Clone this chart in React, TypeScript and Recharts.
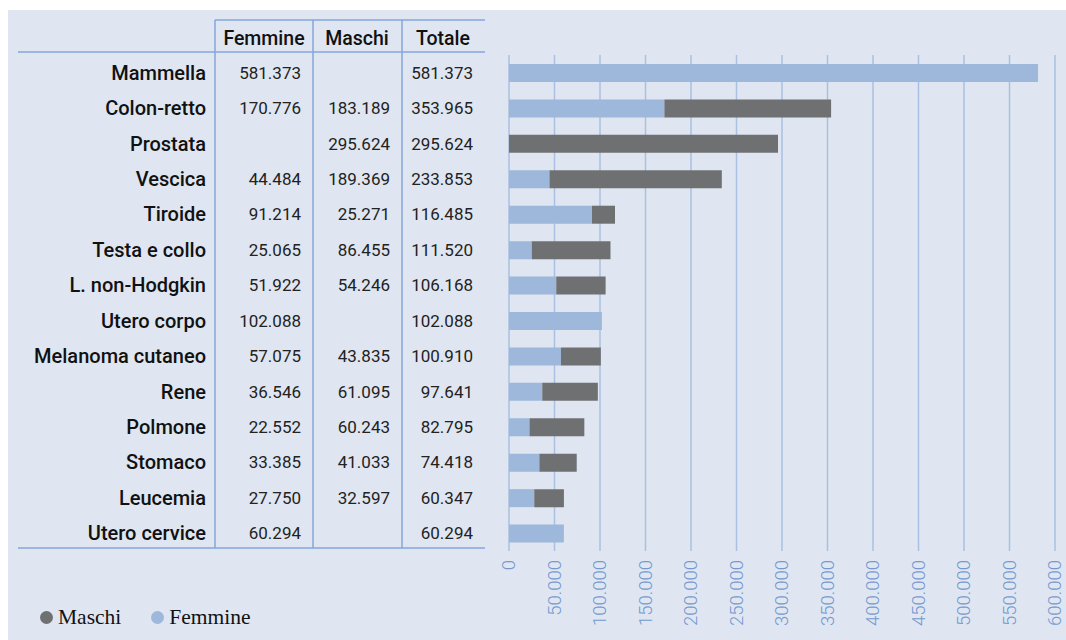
import { BarChart, Bar, XAxis, YAxis, CartesianGrid, Legend, Customized } from "recharts";

const categories = [
  "Mammella", "Colon-retto", "Prostata", "Vescica", "Tiroide", "Testa e collo", "L. non-Hodgkin",
  "Utero corpo", "Melanoma cutaneo", "Rene", "Polmone", "Stomaco", "Leucemia", "Utero cervice",
];
const femmine = [581373, 170776, null, 44484, 91214, 25065, 51922, 102088, 57075, 36546, 22552, 33385, 27750, 60294];
const maschi = [null, 183189, 295624, 189369, 25271, 86455, 54246, null, 43835, 61095, 60243, 41033, 32597, null];
const totale = [581373, 353965, 295624, 233853, 116485, 111520, 106168, 102088, 100910, 97641, 82795, 74418, 60347, 60294];
const xTicks = [0, 50000, 100000, 150000, 200000, 250000, 300000, 350000, 400000, 450000, 500000, 550000, 600000];
const columns = ["Femmine", "Maschi", "Totale"];

const data = categories.map((name, i) => ({ name, femmine: femmine[i], maschi: maschi[i], totale: totale[i] }));

const BG = "#dfe6f1";
const LINE = "#86a7d8";
const FONT = "Roboto, 'Noto Sans', sans-serif";

// 581373 -> "581.373"
const fmt = (v: number | null) => (v == null ? "" : String(v).replace(/\B(?=(\d{3})+(?!\d))/g, "."));

function RowTick(props: any) {
  const { y, payload, index } = props;
  const row = data[index];
  return (
    <g fontFamily={FONT}>
      <text x={198} y={y} dy="0.35em" textAnchor="end" fontSize={20} fontWeight={500} fill="#111">{payload.value}</text>
      <text x={293} y={y} dy="0.35em" textAnchor="end" fontSize={17} fill="#222">{fmt(row.femmine)}</text>
      <text x={382} y={y} dy="0.35em" textAnchor="end" fontSize={17} fill="#222">{fmt(row.maschi)}</text>
      <text x={465} y={y} dy="0.35em" textAnchor="end" fontSize={17} fill="#222">{fmt(row.totale)}</text>
    </g>
  );
}

function ValueTick(props: any) {
  const { x, y, payload } = props;
  return (
    <text x={x} y={y + 1} dy="0.35em" textAnchor="end" transform={`rotate(-90, ${x}, ${y + 1})`}
      fontFamily={FONT} fontWeight={300} fontSize={18.5} fill="#7499cf">
      {fmt(payload.value)}
    </text>
  );
}

// table frame and header
function TableFrame() {
  const headX = [256, 349, 435];
  return (
    <g stroke={LINE} strokeWidth={1.5}>
      <line x1={207} y1={10} x2={477} y2={10} />
      <line x1={10} y1={42} x2={477} y2={42} />
      <line x1={10} y1={538} x2={477} y2={538} />
      <line x1={207} y1={10} x2={207} y2={538} />
      <line x1={305} y1={10} x2={305} y2={538} />
      <line x1={394} y1={10} x2={394} y2={538} />
      {columns.map((c, i) => (
        <text key={c} x={headX[i]} y={28} dy="0.35em" textAnchor="middle" stroke="none" fill="#111"
          fontFamily={FONT} fontSize={19.5} fontWeight={500}>{c}</text>
      ))}
    </g>
  );
}

function LegendContent(props: any) {
  const items = [...(props.payload || [])].reverse();
  return (
    <div style={{ display: "flex", gap: 30, fontFamily: "'Liberation Serif', serif", fontSize: 21.5, color: "#111" }}>
      {items.map((it: any) => (
        <span key={it.value} style={{ display: "flex", alignItems: "center", gap: 5 }}>
          <span style={{ width: 13, height: 13, borderRadius: "50%", background: it.color, display: "inline-block" }} />
          {it.value}
        </span>
      ))}
    </div>
  );
}

export default function App() {
  return (
    <div style={{ position: "fixed", left: 8, top: 10, right: 0, bottom: 0, background: BG, overflow: "hidden" }}>
      <BarChart width={1058} height={630} data={data} layout="vertical"
        margin={{ top: 45, right: 11, bottom: 9, left: 0 }} barSize={18}>
        <CartesianGrid horizontal={false} stroke="#a9c0e2" strokeWidth={1.5} />
        <XAxis type="number" domain={[0, 600000]} ticks={xTicks} interval={0} height={80}
          axisLine={false} tickLine={false} tick={<ValueTick />} />
        <YAxis type="category" dataKey="name" width={501} interval={0}
          axisLine={false} tickLine={false} tick={<RowTick />} />
        <Legend layout="horizontal" verticalAlign="middle" align="center" content={<LegendContent />}
          wrapperStyle={{ top: 595, left: 32, width: 340 }} />
        <Bar dataKey="femmine" name="Femmine" stackId="a" fill="#9db8da" isAnimationActive={false} />
        <Bar dataKey="maschi" name="Maschi" stackId="a" fill="#6f7072" isAnimationActive={false} />
        <Customized component={<TableFrame />} />
      </BarChart>
    </div>
  );
}
